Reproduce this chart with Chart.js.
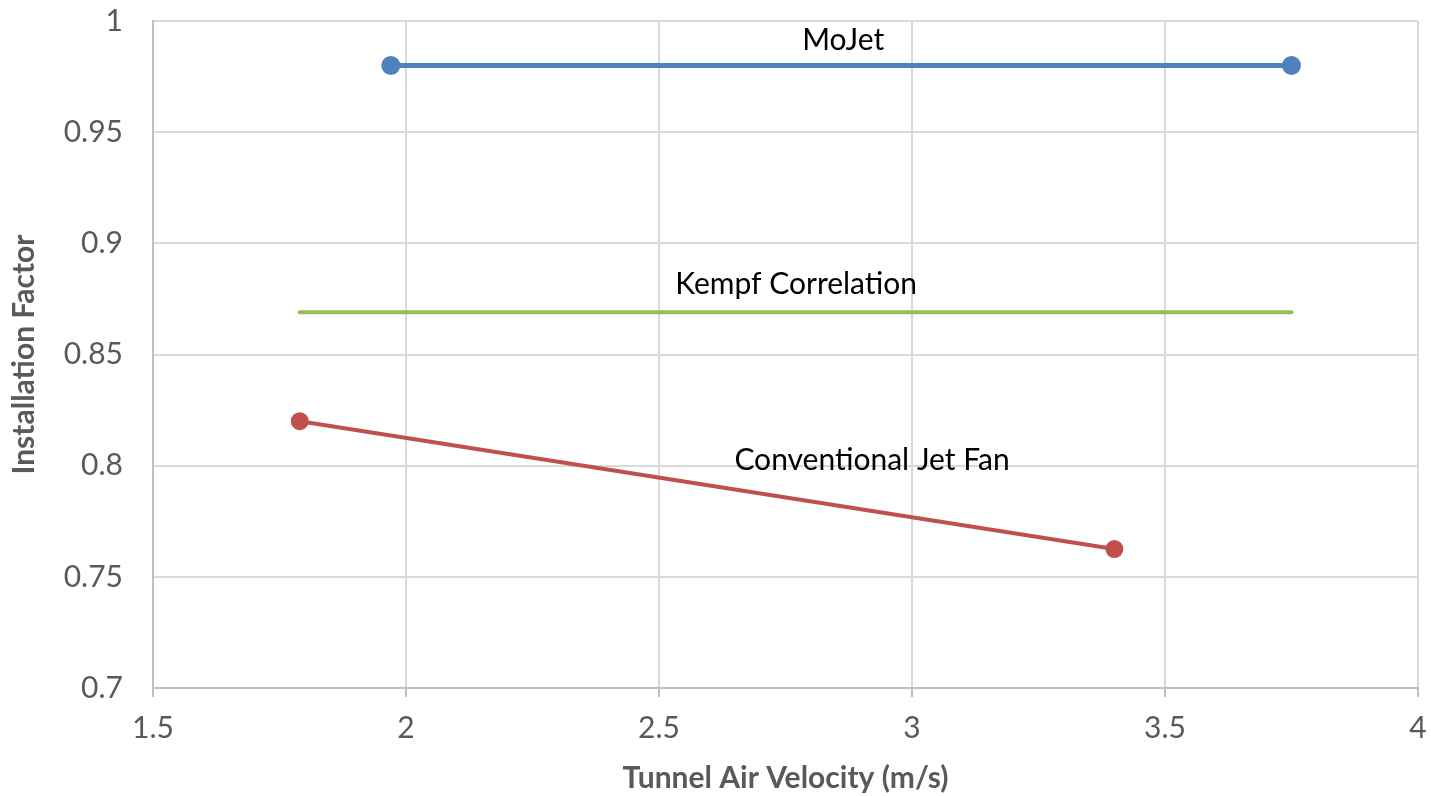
<!DOCTYPE html>
<html>
<head>
<meta charset="utf-8">
<script src="https://cdn.jsdelivr.net/npm/chart.js@4/dist/chart.umd.min.js"></script>
<style>
  html, body { margin: 0; padding: 0; background: #fff; }
  #wrap { width: 1431px; height: 796px; }
</style>
</head>
<body>
<div id="wrap"><canvas id="chart-canvas"></canvas></div>
<script>
// series values (x = tunnel air velocity m/s, y = installation factor)
const mojetX = [1.97, 3.75];
const mojetY = [0.98, 0.98];
const kempfX = [1.79, 3.75];
const kempfY = [0.869, 0.869];
const conventionalX = [1.79, 3.40];
const conventionalY = [0.82, 0.7625];

// axis ticks
const xTicks = [1.5, 2, 2.5, 3, 3.5, 4];
const yTicks = [0.7, 0.75, 0.8, 0.85, 0.9, 0.95, 1];

// in-plot series labels, placed in data units
const labelText = ['MoJet', 'Kempf Correlation', 'Conventional Jet Fan'];
const labelX = [2.864, 2.771, 2.921];
const labelY = [0.9915, 0.8817, 0.8025];

const FONT = 'Lato, "Open Sans", sans-serif';

function toPoints(xs, ys) {
  return xs.map((x, i) => ({ x: x, y: ys[i] }));
}

const seriesLabels = {
  id: 'seriesLabels',
  afterDatasetsDraw(chart) {
    const ctx = chart.ctx;
    const xs = chart.scales.x, ys = chart.scales.y;
    ctx.save();
    ctx.font = '30px ' + FONT;
    ctx.fillStyle = '#000';
    ctx.textAlign = 'center';
    ctx.textBaseline = 'middle';
    labelText.forEach((t, i) => {
      ctx.fillText(t, xs.getPixelForValue(labelX[i]), ys.getPixelForValue(labelY[i]));
    });
    ctx.restore();
  }
};

new Chart(document.getElementById('chart-canvas'), {
  type: 'scatter',
  data: {
    datasets: [
      {
        label: 'MoJet',
        data: toPoints(mojetX, mojetY),
        showLine: true,
        borderColor: '#4f81bd',
        backgroundColor: '#4f81bd',
        borderWidth: 5,
        pointRadius: 7,
        pointHoverRadius: 7,
      },
      {
        label: 'Kempf Correlation',
        data: toPoints(kempfX, kempfY),
        showLine: true,
        borderColor: '#9bbb59',
        backgroundColor: '#9bbb59',
        borderWidth: 4,
        pointRadius: 0,
        borderCapStyle: 'round',
      },
      {
        label: 'Conventional Jet Fan',
        data: toPoints(conventionalX, conventionalY),
        showLine: true,
        borderColor: '#c0504d',
        backgroundColor: '#c0504d',
        borderWidth: 4,
        pointRadius: 7,
        pointHoverRadius: 7,
      },
    ],
  },
  options: {
    responsive: true,
    maintainAspectRatio: false,
    animation: false,
    layout: { padding: { left: 0, right: 13, top: 21, bottom: 0 } },
    plugins: {
      legend: { display: false },
      tooltip: { enabled: false },
    },
    scales: {
      x: {
        type: 'linear',
        min: 1.5,
        max: 4,
        afterBuildTicks: (s) => { s.ticks = xTicks.map(v => ({ value: v })); },
        afterFit: (s) => { s.height = 108; s.paddingLeft = 0; s.paddingRight = 0; },
        ticks: {
          color: '#595959',
          font: { family: FONT, size: 30 },
          padding: 13,
          maxRotation: 0,
          callback: (v) => String(v),
        },
        grid: { color: '#d9d9d9', lineWidth: 2, tickLength: 9, tickColor: '#bfbfbf' },
        border: { color: '#bfbfbf', width: 2 },
        title: {
          display: true,
          text: 'Tunnel Air Velocity (m/s)',
          color: '#595959',
          font: { family: FONT, size: 30, weight: 'bold' },
          padding: { top: 0, bottom: 0 },
        },
      },
      y: {
        type: 'linear',
        min: 0.7,
        max: 1,
        afterBuildTicks: (s) => { s.ticks = yTicks.map(v => ({ value: v })); },
        afterFit: (s) => { s.width = 153; s.paddingTop = 0; s.paddingBottom = 0; },
        ticks: {
          color: '#595959',
          font: { family: FONT, size: 30 },
          padding: 30,
          callback: (v) => String(+v.toFixed(2)),
        },
        grid: { color: '#d9d9d9', lineWidth: 2, drawTicks: false },
        border: { color: '#bfbfbf', width: 2 },
        title: {
          display: true,
          text: 'Installation Factor',
          color: '#595959',
          font: { family: FONT, size: 30, weight: 'bold' },
          padding: { top: 6, bottom: 0 },
        },
      },
    },
  },
  plugins: [seriesLabels],
});
</script>
</body>
</html>
